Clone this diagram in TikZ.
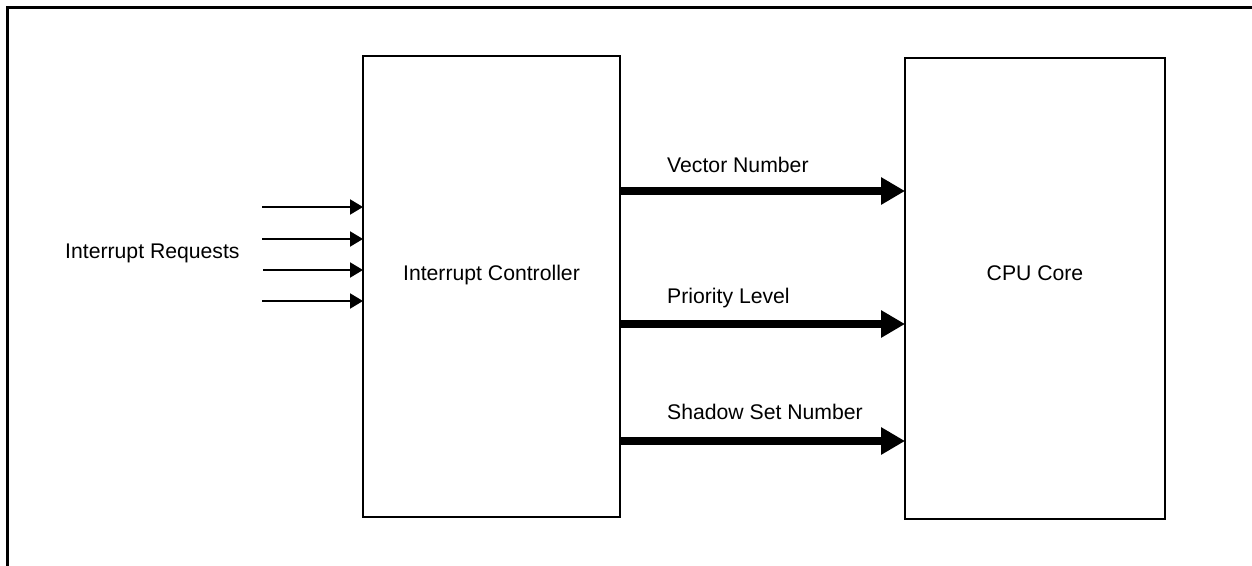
\documentclass[tikz,border=0pt]{standalone}
\usepackage{fontspec}
\setmainfont{Liberation Sans}
\usetikzlibrary{arrows.meta}
\begin{document}
\begin{tikzpicture}[x=1pt,y=-1pt,
  blockbox/.style={draw, line width=2pt, inner sep=0pt, outer sep=0pt, minimum width=#1, minimum height=461pt},
  lbl/.style={inner sep=0pt, font=\fontsize{21.2}{25}\selectfont},
  thinarrow/.style={line width=2pt, -{Triangle[length=13pt, width=15pt]}},
  busarrow/.style={line width=8pt, -{Triangle[length=24pt, width=26pt]}},
  frame/.style={line width=3pt}
]
\useasboundingbox (0,0) rectangle (1252,565);
\draw[frame] (1260,7) -- (7,7) -- (7,575);
\node[blockbox=257pt] (ic) at (491.5,286.5) {};
\node[blockbox=260pt] (cpu) at (1035,288.5) {};
\node[lbl, anchor=base] (ictext) at (491.5,280) {Interrupt Controller};
\node[lbl, anchor=base] (cputext) at (1035,280) {CPU Core};
\node[lbl, anchor=base west] (reqtext) at (65,258) {Interrupt Requests};
\node[lbl, anchor=base west] (vtext) at (667,172) {Vector Number};
\node[lbl, anchor=base west] (ptext) at (667,303) {Priority Level};
\node[lbl, anchor=base west] (stext) at (667,419) {Shadow Set Number};
\coordinate (r1) at (262,207);
\coordinate (r2) at (262,239);
\coordinate (r3) at (263,270);
\coordinate (r4) at (262,301);
\foreach \r in {r1,r2,r3,r4} \draw[thinarrow] (\r) -- (ic.west |- \r);
\coordinate (bv) at (0,191);
\coordinate (bp) at (0,324);
\coordinate (bs) at (0,441);
\foreach \b in {bv,bp,bs} \draw[busarrow] (ic.east |- \b) -- (cpu.west |- \b);
\end{tikzpicture}
\end{document}
